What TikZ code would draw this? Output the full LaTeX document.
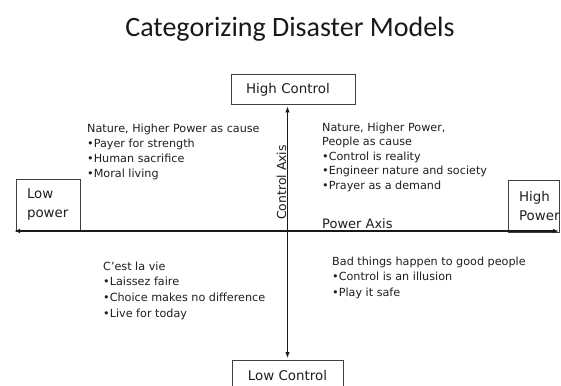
\documentclass[tikz,border=0pt]{standalone}
\usepackage{fontspec}
\setmainfont{DejaVu Sans}
\newfontfamily\ttlfont{Carlito}
\usetikzlibrary{arrows.meta}
\begin{document}
\begin{tikzpicture}[x=1pt,y=-1pt,
  txt/.style={font=\fontsize{11.2}{15}\selectfont, text=black!88, inner sep=0pt, anchor=base west},
  lbl/.style={draw=black!75, line width=0.8pt, text=black!88, font=\fontsize{13.4}{19}\selectfont},
  axisline/.style={line width=1.3pt, draw=black!90, {Latex[length=6pt,width=4.5pt]}-{Latex[length=6pt,width=4.5pt]}},
]
\useasboundingbox (0,0) rectangle (561,385);
\fill[white] (0,0) rectangle (561,385);

\node[font=\ttlfont\fontsize{28}{32}\selectfont, text=black!90, anchor=base, inner sep=0pt] (title) at (290,37) {Categorizing Disaster Models};

\node[lbl, minimum height=30pt, text width=94pt, inner xsep=15pt, align=left] (hc) at (293,89.5) {High Control};
\node[lbl, minimum height=30pt, minimum width=111pt, inner xsep=0pt] (lc) at (287.5,375) {Low Control};
\node[lbl, minimum height=52pt, text width=42pt, inner xsep=11pt, align=left] (lp) at (48,205) {Low\\power};
\node[lbl, minimum height=52pt, text width=29pt, inner xsep=11pt, align=left] (hp) at (533.5,206) {High\\Power};

\coordinate (pl) at (14,231);
\coordinate (pr) at (559,231);
\draw[axisline] (pl) -- (pr);
\draw[axisline, shorten <=1.5pt, shorten >=1.5pt] (hc.south -| lc.north) -- (lc.north);

\node[font=\fontsize{12.4}{15}\selectfont, text=black!88, inner sep=0pt, rotate=90, anchor=base] (cax) at (286,182.5) {Control Axis};
\node[font=\fontsize{13}{15}\selectfont, text=black!88, inner sep=0pt, anchor=base west] (pax) at (322,228.5) {Power Axis};

\node[txt] (tl) at (87,132) {\begin{tabular}[t]{@{}l@{}}Nature, Higher Power as cause\\•Payer for strength\\•Human sacrifice\\•Moral living\end{tabular}};
\node[txt, font=\fontsize{11.2}{14.5}\selectfont] (tr) at (322,131) {\begin{tabular}[t]{@{}l@{}}Nature, Higher Power,\\People as cause\\•Control is reality\\•Engineer nature and society\\•Prayer as a demand\end{tabular}};
\node[txt, font=\fontsize{11.2}{15.8}\selectfont] (bl) at (103,270) {\begin{tabular}[t]{@{}l@{}}C’est la vie\\•Laissez faire\\•Choice makes no difference\\•Live for today\end{tabular}};
\node[txt, font=\fontsize{11.2}{15.5}\selectfont] (br) at (332,265) {\begin{tabular}[t]{@{}l@{}}Bad things happen to good people\\•Control is an illusion\\•Play it safe\end{tabular}};
\end{tikzpicture}
\end{document}
